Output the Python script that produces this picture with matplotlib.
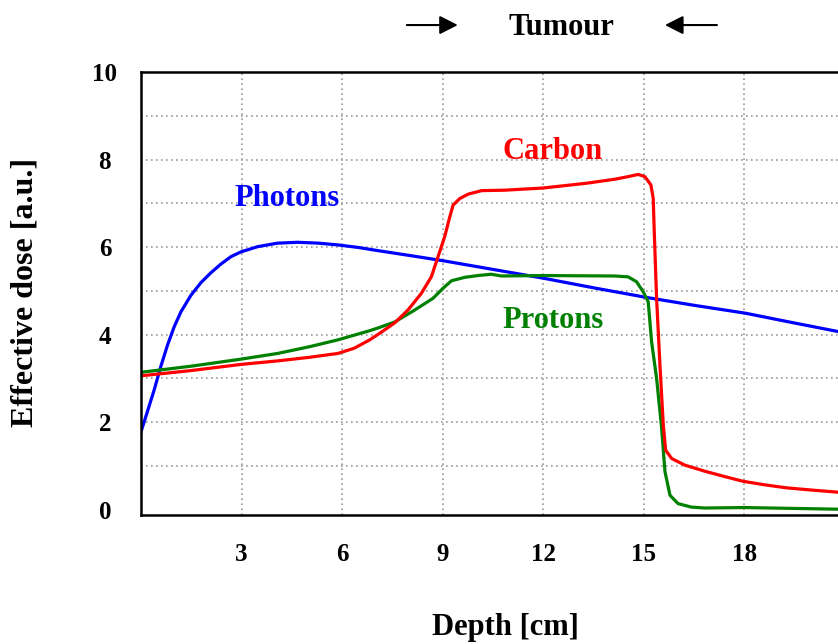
import numpy as np
import matplotlib
matplotlib.use('Agg')
import matplotlib.pyplot as plt


# depth-dose curves
photon_depth = [0, 0.19, 0.39, 0.59, 0.79, 0.99, 1.19, 1.49, 1.79, 2.08, 2.38, 2.68, 2.98,
                3.48, 4.07, 4.67, 5.3, 5.87, 6.5, 7.06, 8.0, 9.0, 10.5, 12.0, 13.5,
                15.08, 16.5, 18.03, 19.4, 20.8, 21.0]
photon_dose = [1.78, 2.24, 2.73, 3.27, 3.76, 4.18, 4.52, 4.90, 5.19, 5.41, 5.61, 5.78, 5.89,
               6.01, 6.09, 6.11, 6.09, 6.05, 5.99, 5.92, 5.81, 5.69, 5.49, 5.29, 5.07,
               4.85, 4.67, 4.49, 4.28, 4.07, 4.04]

carbon_depth = [0, 1.5, 2.98, 4.07, 5.0, 5.87, 6.36, 6.82, 7.06, 7.57, 7.96, 8.36, 8.66,
                8.86, 9.06, 9.21, 9.31, 9.51, 9.76, 10.16, 10.85, 12.0, 13.3, 14.13,
                14.53, 14.83, 15.03, 15.21, 15.28, 15.31, 15.38, 15.48, 15.58, 15.65,
                15.83, 16.22, 16.82, 17.4, 17.96, 18.6, 19.26, 20.0, 20.8, 21.0]
carbon_dose = [3.06, 3.18, 3.32, 3.40, 3.48, 3.57, 3.69, 3.88, 4.00, 4.27, 4.56, 4.94, 5.32,
               5.78, 6.24, 6.69, 6.96, 7.11, 7.21, 7.29, 7.30, 7.35, 7.46, 7.55,
               7.61, 7.66, 7.61, 7.42, 7.11, 6.35, 4.83, 3.30, 1.93, 1.36,
               1.17, 1.02, 0.88, 0.76, 0.65, 0.57, 0.50, 0.45, 0.40, 0.39]

proton_depth = [0, 1.5, 2.98, 4.07, 5.0, 5.87, 6.82, 7.06, 7.57, 8.16, 8.71, 9.01, 9.26,
                9.66, 10.05, 10.45, 10.75, 12.0, 14.13, 14.53, 14.78, 14.98, 15.13,
                15.23, 15.38, 15.53, 15.63, 15.78, 16.02, 16.42, 16.82, 18.0, 21.0]
proton_dose = [3.14, 3.28, 3.44, 3.57, 3.72, 3.88, 4.09, 4.15, 4.29, 4.56, 4.83, 5.06, 5.23,
               5.31, 5.35, 5.38, 5.34, 5.35, 5.34, 5.32, 5.21, 4.98, 4.75,
               3.84, 3.00, 1.86, 0.87, 0.33, 0.14, 0.06, 0.04, 0.05, 0.01]

x_ticks = [3, 6, 9, 12, 15, 18]
y_ticks = list(range(0, 11))
y_labels = [str(v) if v % 2 == 0 else '' for v in y_ticks]

plt.rcParams['font.family'] = ['Liberation Serif', 'DejaVu Serif']
plt.rcParams['font.weight'] = 'bold'

fig = plt.figure(figsize=(8.38, 6.44), dpi=100)
ax = fig.add_axes([141 / 838, 129 / 644, 704 / 838, 443 / 644])

ax.plot(photon_depth, photon_dose, color='#0000ff', lw=2.3, solid_joinstyle='round')
ax.plot(proton_depth, proton_dose, color='#008000', lw=2.3, solid_joinstyle='round')
ax.plot(carbon_depth, carbon_dose, color='#ff0000', lw=2.3, solid_joinstyle='round')

ax.set_xlim(0, 21)
ax.set_ylim(-0.12, 10)
ax.set_xticks(x_ticks)
ax.set_xticklabels([str(v) for v in x_ticks], fontsize=18, fontweight='bold')
ax.set_yticks(y_ticks)
ax.set_yticklabels(y_labels, fontsize=18, fontweight='bold', ha='center')
ax.tick_params(axis='x', length=0, pad=20)
ax.tick_params(axis='y', length=0, pad=26)
ax.grid(True, color='#999999', linestyle=(0, (1, 2)), linewidth=1.2)
ax.yaxis.get_gridlines()[0].set_visible(False)
for s in ax.spines.values():
    s.set_linewidth(1.8)
    s.set_color('black')

# curve labels
ax.text(4.37, 7.10, 'Photons', color='#0000ff', fontsize=22, fontweight='bold', ha='center', va='center')
ax.text(12.28, 8.19, 'Carbon', color='#ff0000', fontsize=22, fontweight='bold', ha='center', va='center')
ax.text(12.28, 4.33, 'Protons', color='#008000', fontsize=22, fontweight='bold', ha='center', va='center')

# tumour marker above the plot
ty = 1.106
ax.text(12.55, ty - 0.006, 'Tumour', transform=ax.get_xaxis_transform(), fontsize=22,
        fontweight='bold', ha='center', va='center')
arrow = dict(arrowstyle='-|>,head_length=0.55,head_width=0.28', color='black', lw=1.5,
             mutation_scale=20, shrinkA=0, shrinkB=0)
ax.annotate('', xy=(9.45, ty), xytext=(7.93, ty), xycoords=('data', 'axes fraction'),
            textcoords=('data', 'axes fraction'), arrowprops=arrow, annotation_clip=False)
ax.annotate('', xy=(15.63, ty), xytext=(17.18, ty), xycoords=('data', 'axes fraction'),
            textcoords=('data', 'axes fraction'), arrowprops=arrow, annotation_clip=False)

fig.text(25 / 838, 1 - 292 / 644, 'Effective dose [a.u.]', rotation=90, fontsize=23,
         fontweight='bold', ha='center', va='center')
fig.text(505 / 838, 1 - 628 / 644, 'Depth [cm]', fontsize=22, fontweight='bold',
         ha='center', va='center')

fig.savefig('out.png', dpi=100)
